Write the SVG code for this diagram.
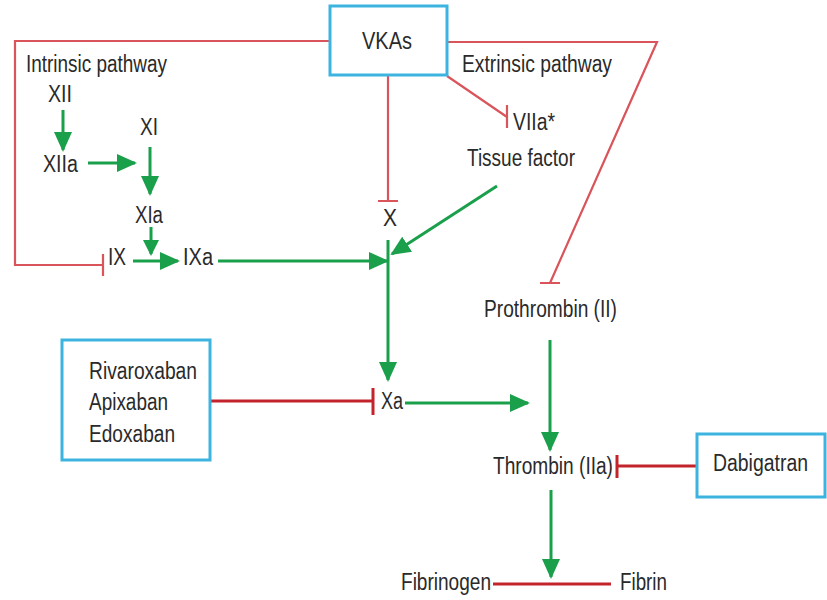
<svg xmlns="http://www.w3.org/2000/svg" width="827" height="600" viewBox="0 0 827 600">
<style>
text{font-family:"Liberation Sans Narrow","Arial Narrow","Liberation Sans",Arial,sans-serif;font-size:23.5px;fill:#2a2a2a}
.box{fill:#fff;stroke:#3db4e0;stroke-width:3}
.g{fill:none;stroke:#1a9f4b;stroke-width:3;marker-end:url(#ah)}
.gs{fill:none;stroke:#1a9f4b;stroke-width:3;marker-end:url(#ahs)}
.r1{fill:none;stroke:#d9545b;stroke-width:2.2}
.r2{fill:none;stroke:#c3242b;stroke-width:3}
</style>
<defs>
<marker id="ah" viewBox="0 0 20 18" refX="18" refY="9" markerWidth="20" markerHeight="18" markerUnits="userSpaceOnUse" orient="auto"><path d="M0 0L20 9L0 18z" fill="#1a9f4b"/></marker>
<marker id="ahs" viewBox="0 0 16 16" refX="14" refY="8" markerWidth="16" markerHeight="16" markerUnits="userSpaceOnUse" orient="auto"><path d="M0 0L16 8L0 16z" fill="#1a9f4b"/></marker>
</defs>
<rect width="827" height="600" fill="#fff"/>
<g id="connectors">
<path class="r1" d="M330 41H15V265H103M103 254V276"/>
<path class="r1" d="M388 75V201M378 201H398"/>
<path class="r1" d="M447 76L507 117M507 105V128"/>
<path class="r1" d="M447 42H657L550 283M540 283H560"/>
<path class="r2" d="M211 401H373M373 388V415"/>
<path class="r2" d="M697 466H617M617 455V478"/>
<path class="r2" d="M493 584H611"/>
<path class="g" d="M63 110V150"/>
<path class="g" d="M88 163H135"/>
<path class="g" d="M150 147V194"/>
<path class="gs" d="M151 227V254"/>
<path class="g" d="M133 261H178"/>
<path class="g" d="M218 261H387"/>
<path class="g" d="M388 240V380"/>
<path class="g" d="M497 186L392 254"/>
<path class="g" d="M405 403H528"/>
<path class="g" d="M550 340V450"/>
<path class="g" d="M551 490V577"/>
</g>
<g id="vkas"><rect class="box" x="330" y="6" width="117" height="69"/><text x="362" y="49" textLength="50" lengthAdjust="spacingAndGlyphs">VKAs</text></g>
<g id="intrinsic"><text x="26" y="72" textLength="141" lengthAdjust="spacingAndGlyphs">Intrinsic pathway</text></g>
<g id="xii"><text x="48" y="102" textLength="24" lengthAdjust="spacingAndGlyphs">XII</text></g>
<g id="xiia"><text x="43" y="172" textLength="35" lengthAdjust="spacingAndGlyphs">XIIa</text></g>
<g id="xi"><text x="140" y="135" textLength="18" lengthAdjust="spacingAndGlyphs">XI</text></g>
<g id="xia"><text x="135" y="223" textLength="28" lengthAdjust="spacingAndGlyphs">XIa</text></g>
<g id="ix"><text x="108" y="265" textLength="18" lengthAdjust="spacingAndGlyphs">IX</text></g>
<g id="ixa"><text x="183" y="265" textLength="30" lengthAdjust="spacingAndGlyphs">IXa</text></g>
<g id="x"><text x="383" y="226" textLength="14" lengthAdjust="spacingAndGlyphs">X</text></g>
<g id="extrinsic"><text x="462" y="72" textLength="150" lengthAdjust="spacingAndGlyphs">Extrinsic pathway</text></g>
<g id="viia"><text x="513" y="130" textLength="42" lengthAdjust="spacingAndGlyphs">VIIa*</text></g>
<g id="tissue"><text x="467" y="166" textLength="108" lengthAdjust="spacingAndGlyphs">Tissue factor</text></g>
<g id="prothrombin"><text x="484" y="317" textLength="133" lengthAdjust="spacingAndGlyphs">Prothrombin (II)</text></g>
<g id="xa-drugs"><rect class="box" x="62" y="340" width="148" height="120"/>
<text x="89" y="379" textLength="108" lengthAdjust="spacingAndGlyphs">Rivaroxaban</text>
<text x="89" y="410" textLength="79" lengthAdjust="spacingAndGlyphs">Apixaban</text>
<text x="89" y="442" textLength="86" lengthAdjust="spacingAndGlyphs">Edoxaban</text></g>
<g id="xa"><text x="381" y="409" textLength="22" lengthAdjust="spacingAndGlyphs">Xa</text></g>
<g id="thrombin"><text x="493" y="474" textLength="120" lengthAdjust="spacingAndGlyphs">Thrombin (IIa)</text></g>
<g id="dabigatran"><rect class="box" x="697" y="434" width="128" height="63"/><text x="713" y="471" textLength="95" lengthAdjust="spacingAndGlyphs">Dabigatran</text></g>
<g id="fibrinogen"><text x="401" y="590" textLength="90" lengthAdjust="spacingAndGlyphs">Fibrinogen</text></g>
<g id="fibrin"><text x="620" y="590" textLength="47" lengthAdjust="spacingAndGlyphs">Fibrin</text></g>
</svg>
